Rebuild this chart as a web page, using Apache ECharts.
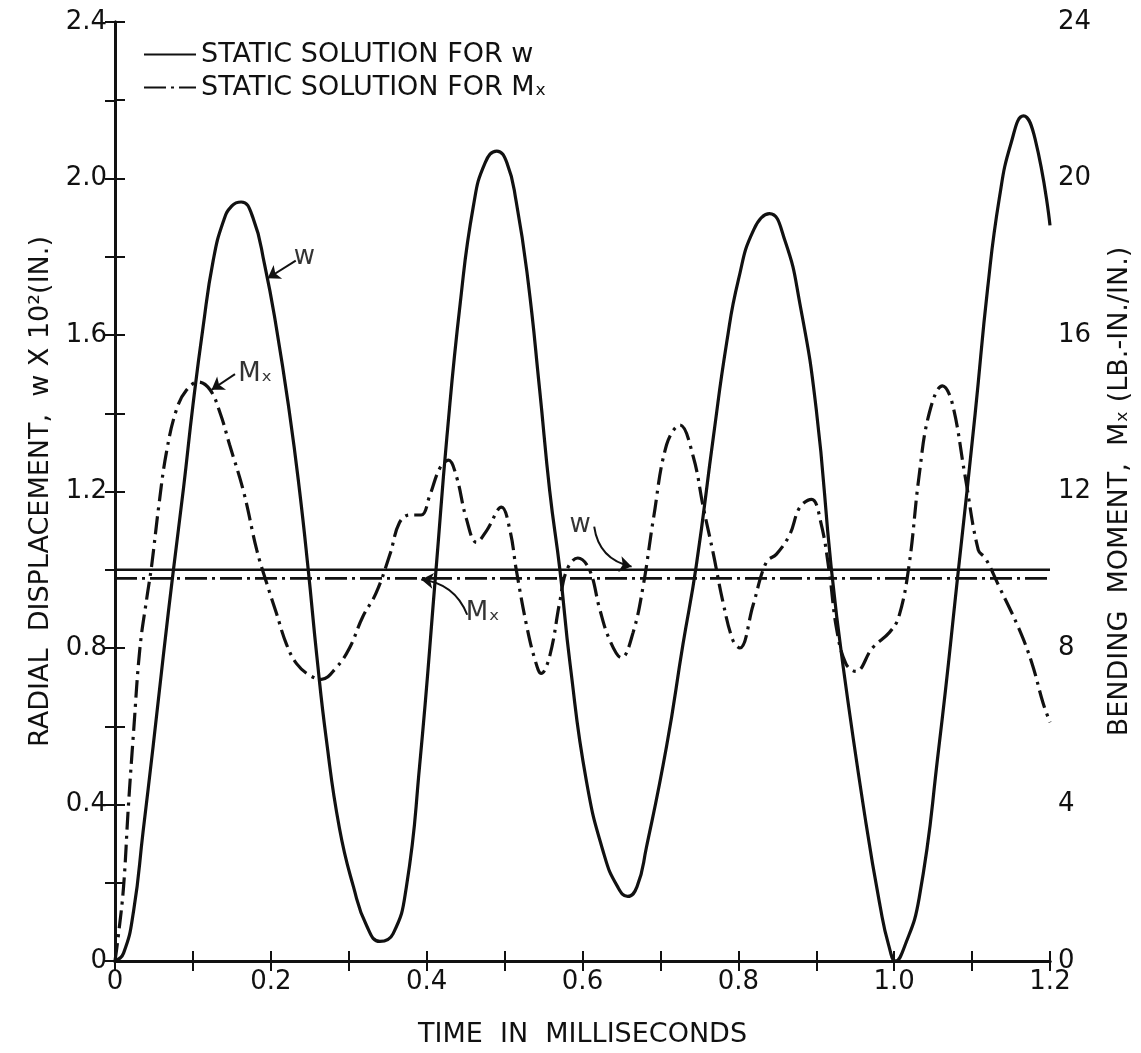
<!DOCTYPE html>
<html>
<head>
<meta charset="utf-8">
<script src="https://cdn.jsdelivr.net/npm/echarts@6/dist/echarts.min.js"></script>
<style>
  html, body { margin: 0; padding: 0; background: #fff; }
  #chart { width: 1141px; height: 1053px; }
</style>
</head>
<body>
<div id="chart"></div>
<script>
// radial displacement w (x 10^2 in.), read on left axis
var wTime = [0, 0.011, 0.024, 0.036, 0.049, 0.062, 0.075, 0.088, 0.1, 0.113, 0.126, 0.139, 0.15, 0.162, 0.177, 0.192,
    0.207, 0.224, 0.237, 0.248, 0.259, 0.271, 0.288, 0.306, 0.323, 0.34, 0.357, 0.374, 0.391, 0.412, 0.426, 0.443,
    0.46, 0.475, 0.49, 0.503, 0.515, 0.53, 0.545, 0.558, 0.571, 0.584, 0.605, 0.628, 0.645, 0.658, 0.67, 0.682, 0.708,
    0.729, 0.746, 0.768, 0.785, 0.8, 0.82, 0.84, 0.86, 0.879, 0.9, 0.919, 0.934, 0.964, 0.982, 0.993, 1.002, 1.012, 1.032,
    1.057, 1.083, 1.104, 1.12, 1.135, 1.15, 1.166, 1.181, 1.2];
var wVal = [0, 0.02, 0.13, 0.33, 0.55, 0.78, 1.0, 1.21, 1.42, 1.62, 1.79, 1.89, 1.93, 1.94, 1.90, 1.78,
    1.62, 1.40, 1.20, 1.0, 0.78, 0.57, 0.34, 0.19, 0.09, 0.05, 0.07, 0.19, 0.50, 1.0, 1.34, 1.68,
    1.93, 2.04, 2.07, 2.04, 1.94, 1.74, 1.46, 1.20, 1.0, 0.76, 0.46, 0.27, 0.19, 0.165, 0.19, 0.29, 0.55,
    0.81, 1.01, 1.34, 1.58, 1.74, 1.87, 1.91, 1.84, 1.68, 1.41, 1.01, 0.76, 0.35, 0.14, 0.04, 0.0, 0.03, 0.16,
    0.54, 1.01, 1.40, 1.72, 1.95, 2.09, 2.16, 2.10, 1.88];

// bending moment Mx (lb.-in./in.), read on right axis
var mTime = [0, 0.004, 0.011, 0.017, 0.024, 0.032, 0.041, 0.047, 0.056, 0.066, 0.079, 0.092, 0.107, 0.122, 0.135, 0.147,
    0.165, 0.182, 0.194, 0.207, 0.22, 0.233, 0.25, 0.265, 0.284, 0.301, 0.318, 0.335, 0.353, 0.365, 0.378, 0.393,
    0.404, 0.417, 0.428, 0.438, 0.451, 0.464, 0.477, 0.496, 0.507, 0.515, 0.528, 0.539, 0.547, 0.558, 0.571, 0.58,
    0.594, 0.609, 0.622, 0.635, 0.65, 0.665, 0.678, 0.691, 0.708, 0.725, 0.742, 0.755, 0.768, 0.78, 0.793, 0.802,
    0.819, 0.836, 0.849, 0.866, 0.879, 0.894, 0.906, 0.917, 0.926, 0.938, 0.951, 0.972, 0.994, 1.006, 1.019, 1.032,
    1.045, 1.062, 1.074, 1.091, 1.108, 1.117, 1.134, 1.16, 1.177, 1.191, 1.2];
var mVal = [0, 0.6, 1.9, 3.9, 5.9, 8.0, 9.3, 10.1, 11.6, 13.0, 14.1, 14.6, 14.8, 14.6, 14.0, 13.2,
    12.0, 10.5, 9.7, 8.9, 8.1, 7.6, 7.3, 7.2, 7.5, 8.0, 8.8, 9.4, 10.4, 11.2, 11.4, 11.4,
    11.9, 12.6, 12.8, 12.4, 11.3, 10.7, 11.0, 11.6, 11.0, 10.0, 8.6, 7.7, 7.35, 7.8, 9.2, 10.0,
    10.3, 10.0, 9.0, 8.2, 7.75, 8.4, 9.6, 11.3, 13.2, 13.7, 12.9, 11.6, 10.4, 9.2, 8.2, 8.0,
    9.1, 10.2, 10.4, 10.9, 11.6, 11.8, 11.2, 9.9, 8.5, 7.6, 7.4, 8.0, 8.4, 8.8, 10.1, 12.4,
    14.0, 14.7, 14.3, 12.4, 10.5, 10.3, 9.6, 8.5, 7.6, 6.6, 6.1];

// static solutions
var staticW = 1.0;
var staticM = 9.78;

// annotation labels (time, w-scale value, text) and arrows
var noteText = ['w', 'M\u2093', 'w', 'M\u2093'];
var notePos = [[0.243, 1.80], [0.18, 1.50], [0.597, 1.115], [0.472, 0.889]];
var arrowFrom = [[0.232, 1.79], [0.154, 1.50], [0.615, 1.11], [0.452, 0.885]];
var arrowTo = [[0.196, 1.745], [0.124, 1.46], [0.663, 1.008], [0.393, 0.975]];
var arrowBend = [0, 0, -0.35, -0.3];

var FONT = 'DejaVu Sans';
var INK = '#111';

function pairs(xs, ys) {
    var out = [];
    for (var i = 0; i < xs.length; i++) out.push([xs[i], ys[i]]);
    return out;
}

var notes = [];
for (var i = 0; i < noteText.length; i++) {
    notes.push({value: notePos[i], name: noteText[i]});
}
var arrows = [];
for (var j = 0; j < arrowFrom.length; j++) {
    arrows.push({coords: [arrowFrom[j], arrowTo[j]], lineStyle: {curveness: arrowBend[j]}});
}

function axisLabelStyle(fn) {
    return {color: INK, fontFamily: FONT, fontSize: 26, formatter: fn};
}

var option = {
    animation: false,
    backgroundColor: '#fff',
    grid: {left: 115, right: 91, top: 22, bottom: 86, containLabel: false},
    legend: {
        orient: 'vertical',
        left: 138,
        top: 36,
        itemWidth: 52,
        itemHeight: 14,
        itemGap: 6,
        itemStyle: {color: 'rgba(0,0,0,0)', borderColor: 'rgba(0,0,0,0)', borderWidth: 0},
        textStyle: {color: INK, fontFamily: FONT, fontSize: 27},
        data: ['STATIC SOLUTION FOR w', 'STATIC SOLUTION FOR M\u2093']
    },
    xAxis: [{
        type: 'value', min: 0, max: 1.2, interval: 0.1,
        name: 'TIME  IN  MILLISECONDS', nameLocation: 'middle', nameGap: 60,
        nameTextStyle: {color: INK, fontFamily: FONT, fontSize: 27},
        axisLine: {lineStyle: {color: INK, width: 3}},
        axisTick: {inside: true, length: 10, lineStyle: {color: INK, width: 2}},
        splitLine: {show: false},
        axisLabel: axisLabelStyle(function (v) {
            var k = Math.round(v * 10);
            if (k % 2) return '';
            return k === 0 ? '0' : v.toFixed(1);
        })
    }, {
        type: 'value', position: 'top', min: 0, max: 1.2, interval: 0.1,
        axisLine: {lineStyle: {color: INK, width: 3}},
        axisTick: {inside: true, length: 10, lineStyle: {color: INK, width: 2}},
        axisLabel: {show: false},
        splitLine: {show: false}
    }],
    yAxis: [{
        type: 'value', min: 0, max: 2.4, interval: 0.2,
        name: 'RADIAL  DISPLACEMENT,  w X 10\u00b2(IN.)', nameLocation: 'middle', nameRotate: 90, nameGap: 60,
        nameTextStyle: {color: INK, fontFamily: FONT, fontSize: 27},
        axisLine: {show: true, lineStyle: {color: INK, width: 3}},
        axisTick: {show: true, inside: true, length: 10, lineStyle: {color: INK, width: 2}},
        splitLine: {show: false},
        axisLabel: axisLabelStyle(function (v) {
            var k = Math.round(v * 10);
            if (k % 4) return '';
            return k === 0 ? '0' : v.toFixed(1);
        })
    }, {
        type: 'value', position: 'right', min: 0, max: 24, interval: 2,
        name: 'BENDING  MOMENT,  M\u2093 (LB.-IN./IN.)', nameLocation: 'middle', nameRotate: 90, nameGap: 56,
        nameTextStyle: {color: INK, fontFamily: FONT, fontSize: 27},
        axisLine: {show: true, lineStyle: {color: INK, width: 3}},
        axisTick: {show: true, inside: true, length: 10, lineStyle: {color: INK, width: 2}},
        splitLine: {show: false},
        axisLabel: axisLabelStyle(function (v) {
            return v % 4 ? '' : String(v);
        })
    }],
    series: [{
        name: 'w',
        type: 'line',
        data: pairs(wTime, wVal),
        smooth: 0.5,
        symbol: 'none',
        lineStyle: {color: INK, width: 3.2}
    }, {
        name: 'Mx',
        type: 'line',
        yAxisIndex: 1,
        data: pairs(mTime, mVal),
        smooth: 0.4,
        symbol: 'none',
        lineStyle: {color: INK, width: 3.2, type: [18, 6, 3, 6]}
    }, {
        name: 'STATIC SOLUTION FOR w',
        type: 'line',
        data: [[0, staticW], [1.2, staticW]],
        symbol: 'none',
        lineStyle: {color: INK, width: 2.6},
        itemStyle: {color: INK}
    }, {
        name: 'STATIC SOLUTION FOR M\u2093',
        type: 'line',
        yAxisIndex: 1,
        data: [[0, staticM], [1.2, staticM]],
        symbol: 'none',
        lineStyle: {color: INK, width: 2.6, type: [22, 5, 3, 5]},
        itemStyle: {color: INK}
    }, {
        name: 'notes',
        type: 'scatter',
        data: notes,
        symbolSize: 1,
        itemStyle: {color: 'rgba(0,0,0,0)'},
        silent: true,
        label: {
            show: true, position: 'inside', formatter: '{b}',
            color: '#000', fontFamily: FONT, fontSize: 26
        }
    }, {
        name: 'arrows',
        type: 'lines',
        coordinateSystem: 'cartesian2d',
        data: arrows,
        symbol: ['none', 'arrow'],
        symbolSize: 12,
        silent: true,
        lineStyle: {color: INK, width: 2, opacity: 1}
    }]
};

var chart = echarts.init(document.getElementById('chart'));
chart.setOption(option);
</script>
</body>
</html>
